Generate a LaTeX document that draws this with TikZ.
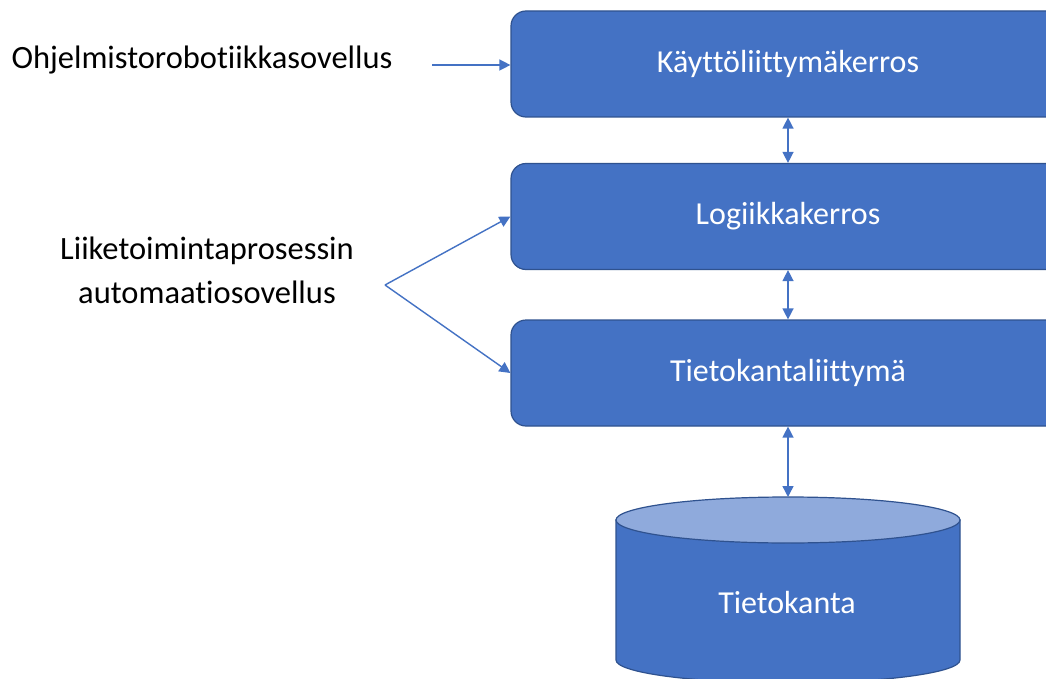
\documentclass[tikz,border=0pt]{standalone}
\usepackage{fontspec}
\setmainfont{Carlito}[Ligatures={NoCommon}]
\usetikzlibrary{arrows.meta}
\definecolor{layerfill}{HTML}{4472C4}
\definecolor{layerline}{HTML}{2F528F}
\definecolor{dbtopfill}{HTML}{8FAADC}
\definecolor{linkcol}{HTML}{4472C4}
\tikzset{
  layer/.style={draw=layerline, line width=1.2pt, fill=layerfill, rounded corners=15pt,
    minimum width=554pt, minimum height=106pt, text=white, font=\fontsize{32}{38}\selectfont},
  label/.style={text=black, font=\fontsize{32.5}{44}\selectfont, align=center, inner sep=0pt},
  link/.style={draw=linkcol, line width=1.4pt, -{Triangle[length=11pt,width=11pt]}},
  twoway/.style={draw=linkcol, line width=1.4pt, {Triangle[length=11pt,width=11pt]}-{Triangle[length=11pt,width=11pt]}}
}
\begin{document}
\begin{tikzpicture}[x=1pt,y=-1pt]
\clip (0,0) rectangle (1046,679);
\fill[white] (0,0) rectangle (1046,679);

% application layers
\node[layer] (ui)  at (788,64)    {Käyttöliittymäkerros};
\node[layer] (bl)  at (788,216.5) {Logiikkakerros};
\node[layer] (dal) at (788,373)   {Tietokantaliittymä};

% database cylinder
\draw[draw=layerline, line width=1.2pt, fill=layerfill]
  (616,520) -- (616,660) arc[start angle=180, end angle=360, x radius=172pt, y radius=23pt]
  -- (960,520) -- cycle;
\draw[draw=layerline, line width=1.2pt, fill=dbtopfill]
  (788,520) ellipse [x radius=172pt, y radius=23pt];
\coordinate (dbtop) at (788,497);
\node[text=white, font=\fontsize{32}{38}\selectfont] (db) at (787,603) {Tietokanta};

% client applications
\node[label] (rpa) at (202,60) {Ohjelmistorobotiikkasovellus};
\node[label] (bpa) at (207,270) {Liiketoimintaprosessin\\automaatiosovellus};
\coordinate (rpaout) at (432,65);
\coordinate (fork) at (385,285);

% connectors
\draw[link] (rpaout) -- (rpaout -| ui.west);
\draw[link] (fork) -- (bl.west);
\draw[link] (fork) -- (dal.west);
\draw[twoway] (ui.south) -- (bl.north);
\draw[twoway] (bl.south) -- (dal.north);
\draw[twoway] (dal.south) -- (dbtop);
\end{tikzpicture}
\end{document}
